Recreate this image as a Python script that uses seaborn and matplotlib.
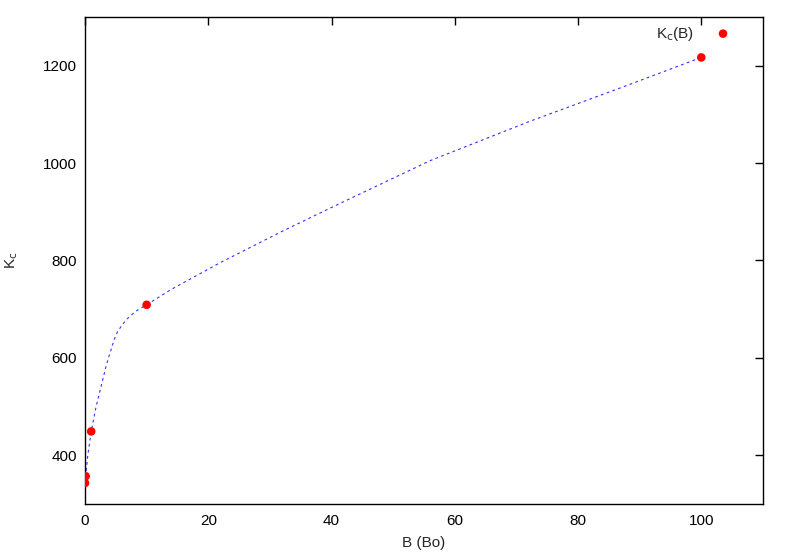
# K_c(B) 곡선 재현
import pandas as pd
import matplotlib
matplotlib.use("Agg")
import matplotlib.pyplot as plt
import seaborn as sns

B_values = [0.0, 0.1, 1.0, 10.0, 100.0]
Kc_values = [343, 357, 449, 709, 1217]

# 점선 곡선
curve_B = [0.0, 0.1, 0.44, 1.0, 1.78, 2.58, 3.39, 3.9, 4.3, 4.75, 5.28,
           6.1, 6.9, 8.24, 10.0, 13.9, 22.0, 32.0, 41.0, 56.0, 72.0, 87.0, 100.0]
curve_Kc = [343, 357, 399, 449, 499, 540, 582, 604, 620, 638, 654,
            669, 681, 696, 709, 740, 796, 860, 915, 1005, 1085, 1155, 1217]

x_ticks = [0, 20, 40, 60, 80, 100]
y_ticks = [400, 600, 800, 1000, 1200]

df = pd.DataFrame({"B": B_values, "Kc": Kc_values})
curve = pd.DataFrame({"B": curve_B, "Kc": curve_Kc})

sns.set_style("white")
plt.rcParams["font.family"] = ["Liberation Sans", "DejaVu Sans"]

fig = plt.figure(figsize=(7.91, 5.54), dpi=100)
ax = fig.add_axes([0.1075, 0.0903, 0.857, 0.879])

sns.lineplot(data=curve, x="B", y="Kc", ax=ax, sort=False, estimator=None,
             color="#3333ff", lw=0.8, linestyle=(0, (2.5, 3)))
sns.scatterplot(data=df, x="B", y="Kc", ax=ax, color="red", s=38,
                edgecolor="none", label="K$_{\\mathrm{c}}$(B)", zorder=5)

ax.set_xlim(0, 110)
ax.set_ylim(300, 1300)
ax.set_xticks(x_ticks)
ax.set_yticks(y_ticks)
ax.tick_params(direction="in", length=6, width=1, top=True, right=True,
               labelsize=11, pad=7, colors="black")
ax.tick_params(axis="y", pad=6)
for sp in ax.spines.values():
    sp.set_color("black")
    sp.set_linewidth(1)

ax.set_xlabel("B (Bo)", fontsize=11, labelpad=6)
ax.set_ylabel("K$_{\\mathrm{c}}$", fontsize=11, labelpad=16)

ax.legend(loc="upper right", bbox_to_anchor=(1 - 17 / 678, 1), frameon=False,
          markerfirst=False, fontsize=11, handletextpad=0.9,
          borderaxespad=0.3, borderpad=0.2)

fig.savefig("out.png", dpi=100)
